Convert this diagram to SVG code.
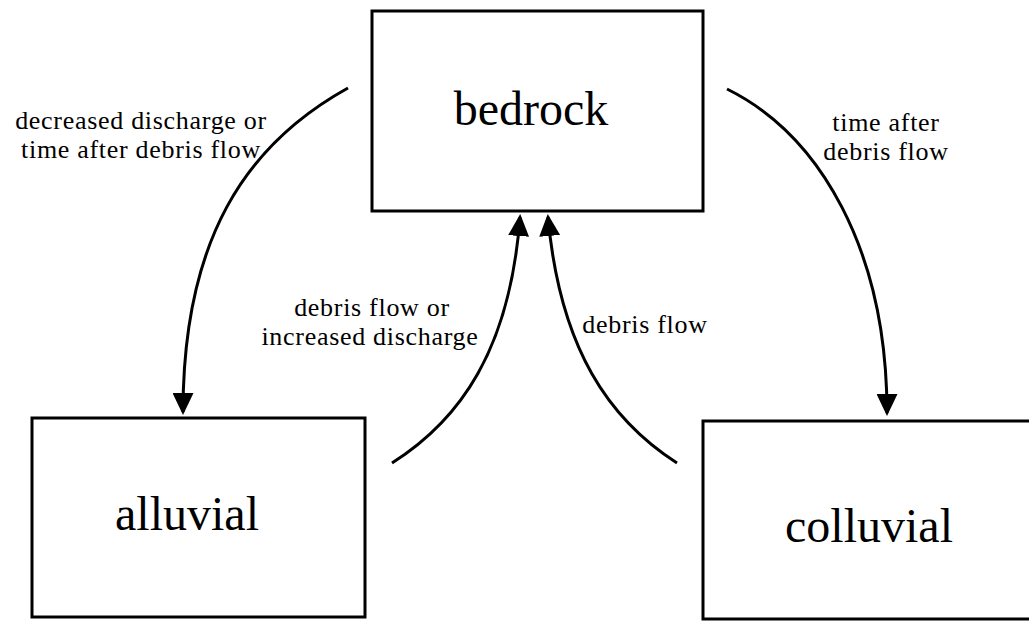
<svg xmlns="http://www.w3.org/2000/svg" width="1029" height="621" viewBox="0 0 1029 621">
<style>
.box{fill:none;stroke:#000;stroke-width:3}
.conn{fill:none;stroke:#000;stroke-width:3}
.big{font-family:"Liberation Serif","Times New Roman",serif;font-size:48px;fill:#000;text-anchor:middle}
.lbl{font-family:"Liberation Serif","Times New Roman",serif;font-size:26px;letter-spacing:0.7px;fill:#000;text-anchor:middle}
</style>
<defs>
<marker id="ah" markerUnits="userSpaceOnUse" markerWidth="22" markerHeight="21" refX="19" refY="10.5" orient="auto" viewBox="0 0 22 21">
<path d="M0,0 L22,10.5 L0,21 z" fill="#000"/>
</marker>
</defs>
<rect width="1029" height="621" fill="#fff"/>
<g id="bedrock">
<rect class="box" x="372" y="11" width="331" height="200"/>
<text class="big" x="531" y="125">bedrock</text>
</g>
<g id="alluvial">
<rect class="box" x="32" y="418" width="333" height="199"/>
<text class="big" x="187" y="530">alluvial</text>
</g>
<g id="colluvial">
<path class="box" d="M1029,421 H703 V619 H1029"/>
<text class="big" x="869" y="542">colluvial</text>
</g>
<g id="connectors">
<path class="conn" d="M348,88 C245,145 183,240 183,412" marker-end="url(#ah)"/>
<path class="conn" d="M727,89 C820,135 887,250 887,413" marker-end="url(#ah)"/>
<path class="conn" d="M392,463 C460,420 510,350 520,217" marker-end="url(#ah)"/>
<path class="conn" d="M677,463 C610,420 560,350 548,217" marker-end="url(#ah)"/>
</g>
<g id="labels">
<text class="lbl" x="141" y="129">decreased discharge or</text>
<text class="lbl" x="141" y="158">time after debris flow</text>
<text class="lbl" x="372" y="316">debris flow or</text>
<text class="lbl" x="370" y="345">increased discharge</text>
<text class="lbl" x="645" y="333">debris flow</text>
<text class="lbl" x="886" y="131">time after</text>
<text class="lbl" x="886" y="160">debris flow</text>
</g>
</svg>
